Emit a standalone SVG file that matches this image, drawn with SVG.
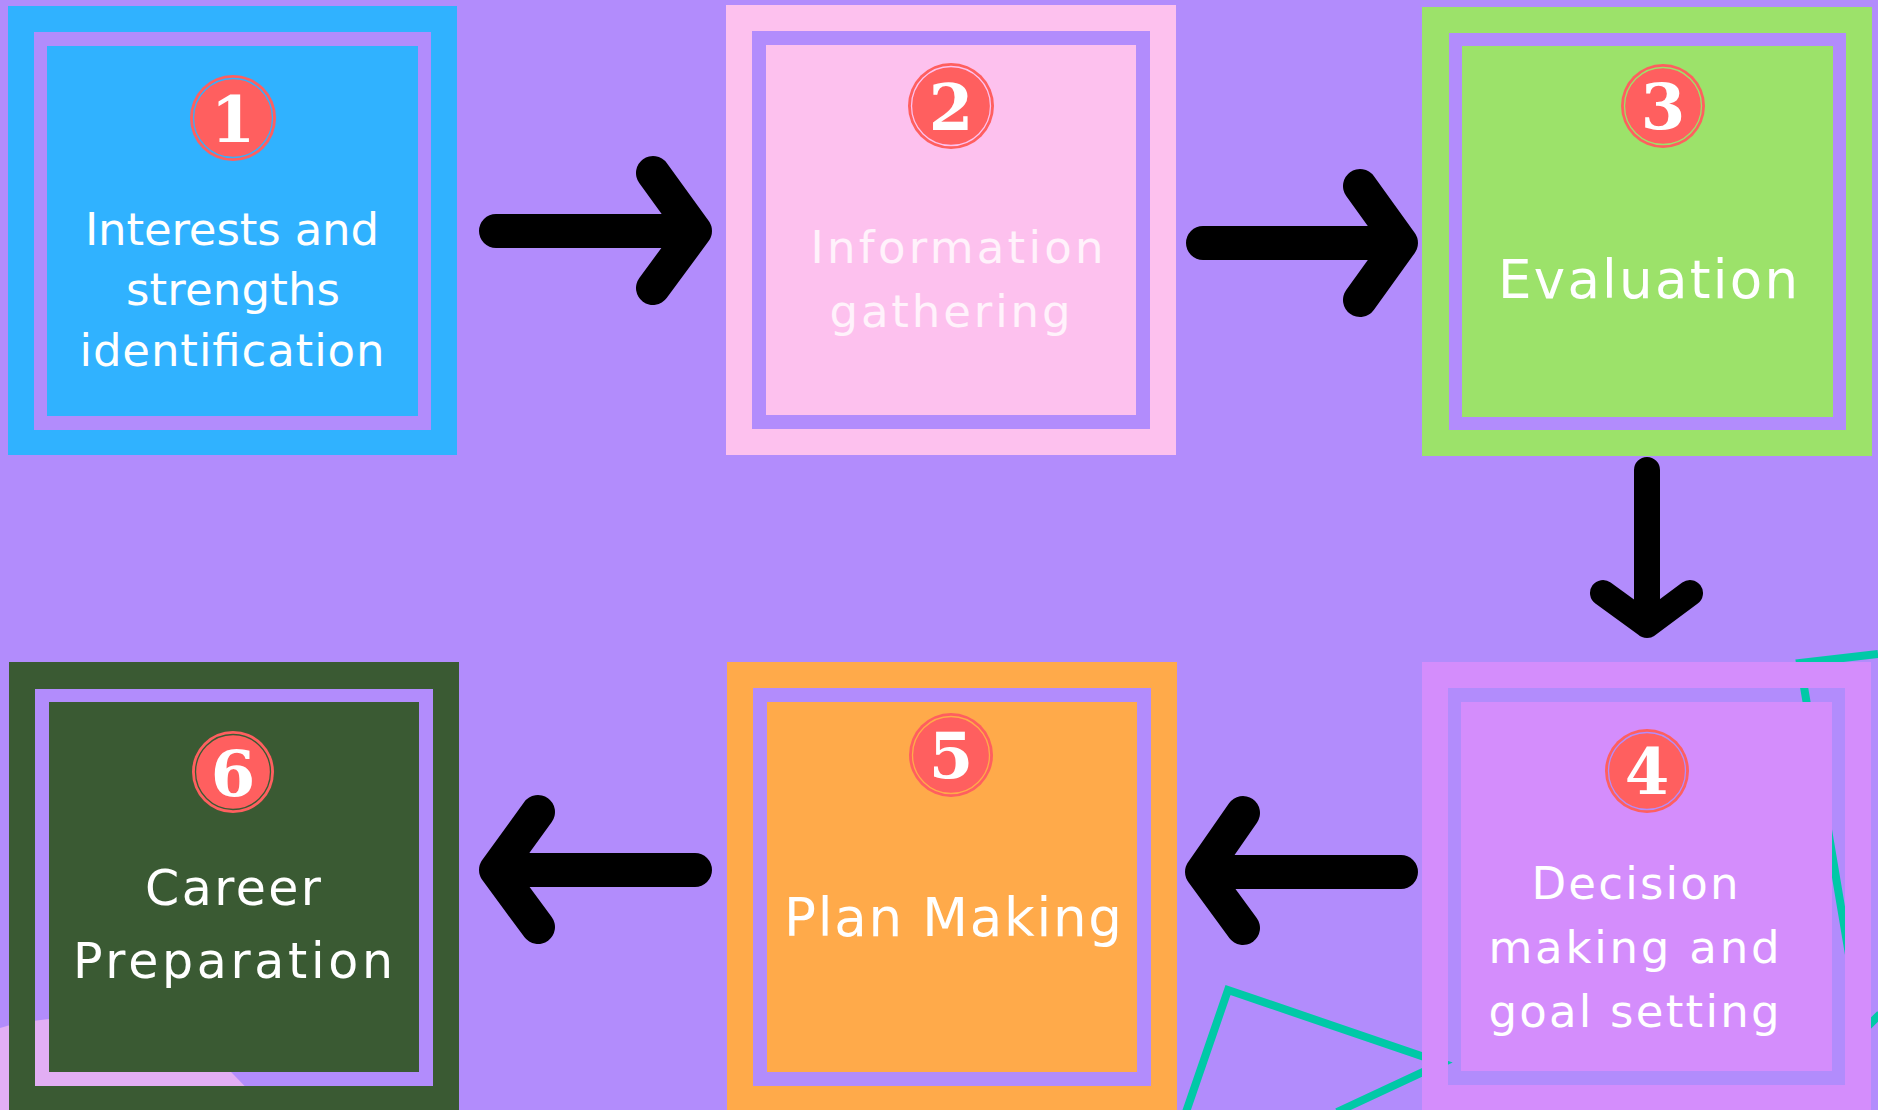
<svg xmlns="http://www.w3.org/2000/svg" width="1878" height="1110" viewBox="0 0 1878 1110">
<style>
.lbl{font-family:"DejaVu Sans","Liberation Sans",sans-serif;font-size:45px;fill:#ffffff;text-anchor:middle;}
.num{font-family:"DejaVu Serif","Liberation Serif",serif;font-weight:bold;font-size:64px;fill:#ffffff;text-anchor:middle;}
.badge{fill:#FF5F5F;}
.deco{fill:none;stroke:#00C9A7;stroke-width:8;}
.arr{fill:none;stroke:#000000;stroke-width:34;stroke-linecap:round;stroke-linejoin:round;}
</style>
<rect x="0" y="0" width="1878" height="1110" fill="#B28CFC"/>
<g id="decorations">
<path d="M0,1028 C60,1010 150,1018 200,1040 L268,1110 L0,1110 Z" fill="#E2AEF4"/>
<polyline class="deco" points="1186,1112 1228,990 1442,1063 1337,1112"/>
<polyline class="deco" points="1878,654 1800,663 1862,1032 1880,1014"/>
</g>
<g id="node1">
<path d="M8,6H457V455H8Z M34,32V430H431V32Z" fill="#30B2FF" fill-rule="evenodd"/>
<rect x="47" y="46" width="371" height="370" fill="#30B2FF"/>
<circle class="badge" cx="233" cy="118" r="43"/>
<circle cx="233" cy="118" r="39.5" fill="none" stroke="#30B2FF" stroke-width="1.3"/>
<text class="num" x="233" y="142">1</text>
<text class="lbl" x="232" y="245" textLength="294" lengthAdjust="spacing">Interests and</text>
<text class="lbl" x="233" y="305" textLength="214" lengthAdjust="spacing">strengths</text>
<text class="lbl" x="232" y="366" textLength="305" lengthAdjust="spacing">identification</text>
</g>
<g id="node2">
<path d="M726,5H1176V455H726Z M752,31V429H1150V31Z" fill="#FDC1EE" fill-rule="evenodd"/>
<rect x="766" y="45" width="370" height="370" fill="#FDC1EE"/>
<circle class="badge" cx="951" cy="106" r="43"/>
<circle cx="951" cy="106" r="39.5" fill="none" stroke="#FDC1EE" stroke-width="1.3"/>
<text class="num" x="951" y="130">2</text>
<text class="lbl" x="957" y="263" style="fill:#FFF2FB" textLength="293" lengthAdjust="spacing">Information</text>
<text class="lbl" x="950" y="327" style="fill:#FFF2FB" textLength="241" lengthAdjust="spacing">gathering</text>
</g>
<g id="node3">
<path d="M1422,7H1872V456H1422Z M1449,33V430H1846V33Z" fill="#9CE26A" fill-rule="evenodd"/>
<rect x="1462" y="46" width="371" height="371" fill="#9CE26A"/>
<circle class="badge" cx="1663" cy="106" r="42"/>
<circle cx="1663" cy="106" r="38.5" fill="none" stroke="#9CE26A" stroke-width="1.3"/>
<text class="num" x="1663" y="129">3</text>
<text class="lbl" x="1648" y="298" style="font-size:53px" textLength="300" lengthAdjust="spacing">Evaluation</text>
</g>
<g id="node4">
<path d="M1422,662H1871V1111H1422Z M1448,688V1085H1845V688Z" fill="#D48DFC" fill-rule="evenodd"/>
<rect x="1461" y="702" width="371" height="369" fill="#D48DFC"/>
<circle class="badge" cx="1647" cy="771" r="42"/>
<circle cx="1647" cy="771" r="38.5" fill="none" stroke="#B28CFC" stroke-width="1.3"/>
<text class="num" x="1647" y="794">4</text>
<text class="lbl" x="1635" y="899" textLength="207" lengthAdjust="spacing">Decision</text>
<text class="lbl" x="1634" y="963" textLength="291" lengthAdjust="spacing">making and</text>
<text class="lbl" x="1634" y="1027" textLength="291" lengthAdjust="spacing">goal setting</text>
</g>
<g id="node5">
<path d="M727,662H1177V1111H727Z M753,688V1086H1151V688Z" fill="#FFAA4A" fill-rule="evenodd"/>
<rect x="767" y="702" width="370" height="370" fill="#FFAA4A"/>
<circle class="badge" cx="951" cy="755" r="42"/>
<circle cx="951" cy="755" r="38.5" fill="none" stroke="#FFAA4A" stroke-width="1.3"/>
<text class="num" x="951" y="778">5</text>
<text class="lbl" x="953" y="936" style="font-size:53px" textLength="338" lengthAdjust="spacing">Plan Making</text>
</g>
<g id="node6">
<path d="M9,662H459V1111H9Z M35,689V1086H433V689Z" fill="#3A5A33" fill-rule="evenodd"/>
<rect x="49" y="702" width="370" height="370" fill="#3A5A33"/>
<circle class="badge" cx="233" cy="772" r="41"/>
<circle cx="233" cy="772" r="37.5" fill="none" stroke="#3A5A33" stroke-width="1.3"/>
<text class="num" x="233" y="796">6</text>
<text class="lbl" x="233" y="905" style="font-size:49px" textLength="176" lengthAdjust="spacing">Career</text>
<text class="lbl" x="233" y="978" style="font-size:49px" textLength="320" lengthAdjust="spacing">Preparation</text>
</g>
<g id="connectors">
<path class="arr" d="M496,231H695 M653,173L695,231L653,288"/>
<path class="arr" d="M1203,243H1401 M1360,186L1401,243L1360,300"/>
<path class="arr" style="stroke-width:26" d="M1647,470V625 M1603,593L1647,625L1690,593"/>
<path class="arr" d="M1401,872H1202 M1243,813L1202,872L1243,928"/>
<path class="arr" d="M695,870H496 M538,812L496,870L538,927"/>
</g>
</svg>
